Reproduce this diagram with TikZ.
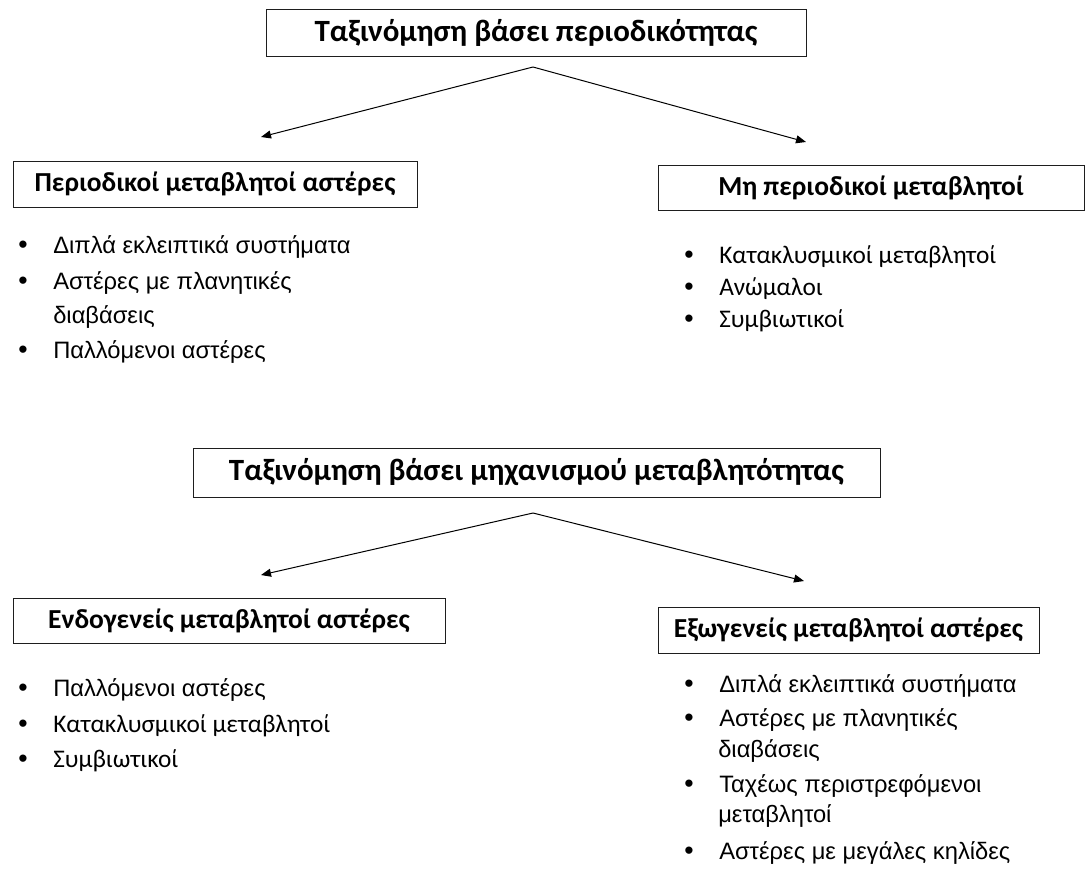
\documentclass[tikz,border=0pt]{standalone}
\usepackage{fontspec}
\setmainfont{Carlito}
\newfontfamily\arial{Liberation Sans}
\usetikzlibrary{arrows.meta}
\definecolor{rahmen}{RGB}{30,30,30}
\newcommand{\punkt}{\makebox[26.25pt][l]{\arial\fontsize{20}{22}\selectfont •}}

\begin{document}
\begin{tikzpicture}[x=0.75pt, y=-0.75pt,
    kasten/.style={draw=rahmen, line width=0.75pt, inner sep=0pt, font=\bfseries\fontsize{20.6}{24}\selectfont},
    titel/.style={kasten, font=\bfseries\fontsize{23.2}{27}\selectfont},
    listea/.style={anchor=base west, inner sep=0pt, font=\arial\fontsize{17.8}{21}\selectfont},
    listec/.style={anchor=base west, inner sep=0pt, font=\fontsize{19}{23}\selectfont},
    pfeil/.style={-{Triangle[length=7.5pt,width=6pt]}, line width=0.75pt}]

    \useasboundingbox (0,0) rectangle (1085,872);

    % oben: periodicity
    \node[titel, minimum width=405pt, minimum height=35.25pt] (per) at (536,32.5) {Ταξινόμηση βάσει περιοδικότητας};
    \node[kasten, minimum width=303pt, minimum height=34.5pt] (peri) at (215,184) {Περιοδικοί μεταβλητοί αστέρες};
    \node[kasten, minimum width=319.5pt, minimum height=33.75pt] (mhper) at (871,187.5) {Μη περιοδικοί μεταβλητοί};

    \coordinate (spitzeA) at (533,67);
    \coordinate (zielAl) at (261,137);
    \coordinate (zielAr) at (806,142);
    \draw[pfeil] (spitzeA) -- (zielAl);
    \draw[pfeil] (spitzeA) -- (zielAr);

    \node[listea] (pa1) at (18,253) {\punkt Διπλά εκλειπτικά συστήματα};
    \node[listea] (pa2) at (18,289) {\punkt Αστέρες με πλανητικές};
    \node[listea] (pa2b) at (53,323) {διαβάσεις};
    \node[listea] (pa3) at (18,358) {\punkt Παλλόμενοι αστέρες};

    \node[listec] (mp1) at (684,263) {\punkt Κατακλυσμικοί μεταβλητοί};
    \node[listec] (mp2) at (684,295) {\punkt Ανώμαλοι};
    \node[listec] (mp3) at (684,327) {\punkt Συμβιωτικοί};

    % unten: mechanism
    \node[titel, minimum width=515.25pt, minimum height=36.75pt] (mech) at (536.5,472.5) {Ταξινόμηση βάσει μηχανισμού μεταβλητότητας};
    \node[kasten, minimum width=324pt, minimum height=33.75pt] (endo) at (229,620.5) {Ενδογενείς μεταβλητοί αστέρες};
    \node[kasten, minimum width=285.75pt, minimum height=34.5pt] (exo) at (848.5,630) {Εξωγενείς μεταβλητοί αστέρες};

    \coordinate (spitzeB) at (533,513);
    \coordinate (zielBl) at (261,575);
    \coordinate (zielBr) at (804,581);
    \draw[pfeil] (spitzeB) -- (zielBl);
    \draw[pfeil] (spitzeB) -- (zielBr);

    \node[listea] (en1) at (18,696) {\punkt Παλλόμενοι αστέρες};
    \node[listec] (en2) at (18,732) {\punkt Κατακλυσμικοί μεταβλητοί};
    \node[listec] (en3) at (18,767) {\punkt Συμβιωτικοί};

    \node[listea] (ex1) at (684,692) {\punkt Διπλά εκλειπτικά συστήματα};
    \node[listea] (ex2) at (684,726) {\punkt Αστέρες με πλανητικές};
    \node[listea] (ex2b) at (718,757) {διαβάσεις};
    \node[listea] (ex3) at (684,792) {\punkt Ταχέως περιστρεφόμενοι};
    \node[listea] (ex3b) at (718,822) {μεταβλητοί};
    \node[listea] (ex4) at (684,859) {\punkt Αστέρες με μεγάλες κηλίδες};

\end{tikzpicture}
\end{document}
